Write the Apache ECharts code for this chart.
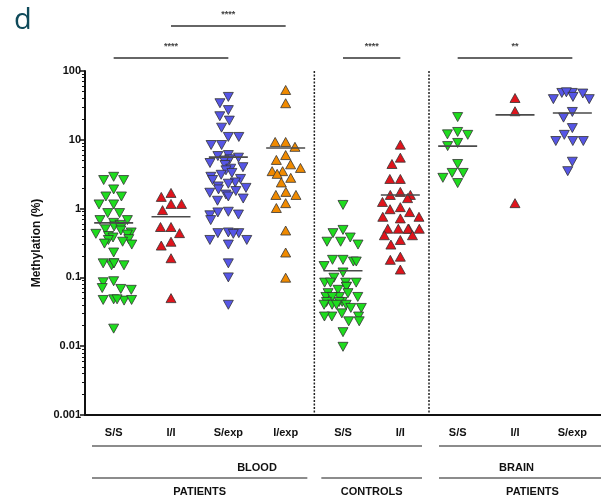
<!DOCTYPE html>
<html>
<head>
<meta charset="utf-8">
<script src="https://cdn.jsdelivr.net/npm/echarts@6.0.0/dist/echarts.min.js"></script>
<style>
  html, body { margin: 0; padding: 0; background: #fff; }
  #chart { width: 601px; height: 495px; }
</style>
</head>
<body>
<div id="chart"></div>
<script>
const categories = ['S/S', 'I/I', 'S/exp', 'I/exp', 'S/S', 'I/I', 'S/S', 'I/I', 'S/exp']

// methylation (%)
const bloodSS = [2.9, 2.6, 2.6, 1.9, 1.5, 1.5, 1.15, 1.15, 0.86, 0.86, 0.68, 0.68, 0.62, 0.58, 0.55, 0.52, 0.5, 0.48, 0.45, 0.43, 0.42, 0.4, 0.38, 0.36, 0.35, 0.33, 0.31, 0.3, 0.23, 0.16, 0.16, 0.15, 0.15, 0.16, 0.088, 0.085, 0.068, 0.066, 0.07, 0.048, 0.047, 0.046, 0.047, 0.048, 0.018]
const bloodII = [1.69, 1.48, 1.17, 1.17, 0.95, 0.54, 0.54, 0.44, 0.33, 0.29, 0.19, 0.05]
const bloodSexp = [42, 34, 27, 22, 19, 15, 11, 11, 8.4, 8.4, 6.0, 5.8, 5.5, 5.2, 5.0, 4.6, 4.3, 4.0, 3.8, 3.6, 3.3, 3.1, 2.9, 2.7, 2.6, 2.4, 2.3, 2.1, 2.0, 1.9, 1.8, 1.7, 1.6, 1.5, 1.4, 1.3, 0.9, 0.88, 0.82, 0.8, 0.68, 0.45, 0.44, 0.44, 0.43, 0.35, 0.35, 0.3, 0.16, 0.1, 0.04]
const bloodIexp = [53, 34, 9.3, 9.3, 7.9, 6.0, 5.1, 4.4, 3.9, 3.5, 3.5, 3.2, 2.8, 2.4, 1.75, 1.58, 1.58, 1.2, 1.02, 0.48, 0.23, 0.099]
const ctrlSS = [1.13, 0.49, 0.44, 0.38, 0.33, 0.33, 0.30, 0.18, 0.18, 0.17, 0.17, 0.146, 0.118, 0.099, 0.084, 0.084, 0.084, 0.084, 0.073, 0.073, 0.066, 0.059, 0.059, 0.052, 0.052, 0.052, 0.052, 0.044, 0.044, 0.044, 0.04, 0.04, 0.04, 0.04, 0.036, 0.036, 0.03, 0.027, 0.027, 0.027, 0.023, 0.023, 0.016, 0.0098]
const ctrlII = [8.5, 5.5, 4.45, 2.7, 2.7, 1.75, 1.58, 1.58, 1.42, 1.25, 1.05, 0.98, 0.89, 0.76, 0.76, 0.72, 0.51, 0.51, 0.51, 0.51, 0.51, 0.41, 0.41, 0.35, 0.30, 0.20, 0.18, 0.13]
const brainSS = [21.4, 13, 12, 11.8, 9.0, 8.1, 4.45, 3.3, 3.3, 2.8, 2.35]
const brainII = [40.5, 26, 1.2]
const brainSexp = [48, 48, 47, 49, 42, 39, 39, 25.4, 21, 14.8, 11.8, 9.6, 9.6, 9.6, 4.8, 3.5]
const medians = [0.62, 0.76, 5.6, 7.6, 0.125, 1.58, 8.1, 23, 24.5]

const GREEN = '#1edc1e'
const RED = '#e0141c'
const BLUE = '#5656e6'
const ORANGE = '#f08a00'

// fixed seed so the library's jitter fallback is the same every run
let seed = 20240611
Math.random = function () {
  seed = (seed + 0x6D2B79F5) | 0
  let t = Math.imul(seed ^ (seed >>> 15), 1 | seed)
  t = (t + Math.imul(t ^ (t >>> 7), 61 | t)) ^ t
  return ((t ^ (t >>> 14)) >>> 0) / 4294967296
}

const chart = echarts.init(document.getElementById('chart'), null, { renderer: 'canvas' })

const triSeries = (cat, vals, color, down) => ({
  type: 'scatter',
  symbol: 'triangle',
  symbolRotate: down ? 180 : 0,
  symbolSize: [10, 9],
  itemStyle: { color: color, borderColor: '#333', borderWidth: 0.8, opacity: 1 },
  emphasis: { disabled: true },
  data: vals.map(v => [cat, v])
})

const option = {
  animation: false,
  textStyle: { fontFamily: 'Liberation Sans, Arial, sans-serif' },
  grid: { left: 85, right: 0, top: 71, bottom: 80 },
  xAxis: {
    type: 'category',
    data: categories,
    jitter: 38,
    jitterOverlap: false,
    jitterMargin: 1,
    axisLine: { lineStyle: { color: '#111', width: 2 } },
    axisTick: { show: false },
    axisLabel: { color: '#111', fontWeight: 'bold', fontSize: 11, margin: 12 },
    splitLine: { show: false }
  },
  yAxis: {
    type: 'log',
    logBase: 10,
    min: 0.001,
    max: 100,
    name: 'Methylation (%)',
    nameLocation: 'middle',
    nameRotate: 90,
    nameGap: 42,
    nameTextStyle: { color: '#111', fontWeight: 'bold', fontSize: 12 },
    axisLine: { show: true, lineStyle: { color: '#111', width: 2 } },
    axisTick: { show: true, length: 5, lineStyle: { color: '#111', width: 1.5 } },
    minorTick: { show: true, splitNumber: 9, length: 3, lineStyle: { color: '#111', width: 1 } },
    axisLabel: {
      color: '#111', fontWeight: 'bold', fontSize: 11, margin: 4,
      formatter: v => String(+v.toPrecision(3))
    },
    splitLine: { show: false }
  },
  series: [
    triSeries(0, bloodSS, GREEN, true),
    triSeries(1, bloodII, RED, false),
    triSeries(2, bloodSexp, BLUE, true),
    triSeries(3, bloodIexp, ORANGE, false),
    triSeries(4, ctrlSS, GREEN, true),
    triSeries(5, ctrlII, RED, false),
    triSeries(6, brainSS, GREEN, true),
    triSeries(7, brainII, RED, false),
    triSeries(8, brainSexp, BLUE, true),
    {
      type: 'custom',
      z: 5,
      silent: true,
      data: medians.map((m, i) => [i, m]),
      renderItem: function (params, api) {
        const p = api.coord([api.value(0), api.value(1)])
        const q = api.coord([api.value(0) + 1, api.value(1)])
        const w = (q[0] - p[0]) * 0.34
        return {
          type: 'line',
          shape: { x1: p[0] - w, y1: p[1], x2: p[0] + w, y2: p[1] },
          style: { stroke: '#4a4a4a', lineWidth: 1.6 }
        }
      }
    }
  ]
}

chart.setOption(option)

// annotations placed from the axes
const px = i => chart.convertToPixel({ xAxisIndex: 0 }, i)
const band = px(1) - px(0)
const yTop = chart.convertToPixel({ yAxisIndex: 0 }, 100)
const yBottom = chart.convertToPixel({ yAxisIndex: 0 }, 0.001)

const brackets = [
  { from: 0, to: 2, level: 0, text: '****' },
  { from: 1, to: 3, level: 1, text: '****' },
  { from: 4, to: 5, level: 0, text: '****' },
  { from: 6, to: 8, level: 0, text: '**' }
]
const groupRows = [
  { from: 0, to: 5, row: 0, text: 'BLOOD', dx: 0, ext: 0 },
  { from: 6, to: 8, row: 0, text: 'BRAIN', dx: 0, ext: 30 },
  { from: 0, to: 3, row: 1, text: 'PATIENTS', dx: 0, ext: 0 },
  { from: 4, to: 5, row: 1, text: 'CONTROLS', dx: 0, ext: 0 },
  { from: 6, to: 8, row: 1, text: 'PATIENTS', dx: 16, ext: 30 }
]

const g = []
g.push({
  type: 'text', left: 14, top: 6,
  style: { text: 'd', fill: '#0f4a5a', font: '29px "Open Sans", sans-serif' }
})
;[3, 5].forEach(i => {
  const x = px(i) + band / 2
  g.push({
    type: 'line', silent: true,
    shape: { x1: x, y1: yTop, x2: x, y2: yBottom },
    style: { stroke: '#222', lineWidth: 1.5, lineDash: [2, 1.5] }
  })
})
brackets.forEach(b => {
  const y = yTop - 13 - b.level * 32
  g.push({
    type: 'line', shape: { x1: px(b.from), y1: y, x2: px(b.to), y2: y },
    style: { stroke: '#333', lineWidth: 1.5 }
  })
  g.push({
    type: 'text', x: (px(b.from) + px(b.to)) / 2, y: y - 11,
    style: { text: b.text, fill: '#444', font: 'bold 9px "Liberation Sans", Arial', align: 'center', verticalAlign: 'middle' }
  })
})
groupRows.forEach(r => {
  const inset = r.from === 6 ? 10 : 7
  const x1 = px(r.from) - band / 2 + inset
  const x2 = px(r.to) + band / 2 - 7 + r.ext
  const y = yBottom + 31 + r.row * 32
  g.push({
    type: 'line', shape: { x1: x1, y1: y, x2: x2, y2: y },
    style: { stroke: '#8c8c8c', lineWidth: 2 }
  })
  g.push({
    type: 'text', x: (x1 + x2 - r.ext) / 2 + r.dx, y: y + 22 - r.row * 8,
    style: { text: r.text, fill: '#111', font: 'bold 11px "Liberation Sans", Arial', align: 'center', verticalAlign: 'middle' }
  })
})
chart.setOption({ graphic: g })
</script>
</body>
</html>
